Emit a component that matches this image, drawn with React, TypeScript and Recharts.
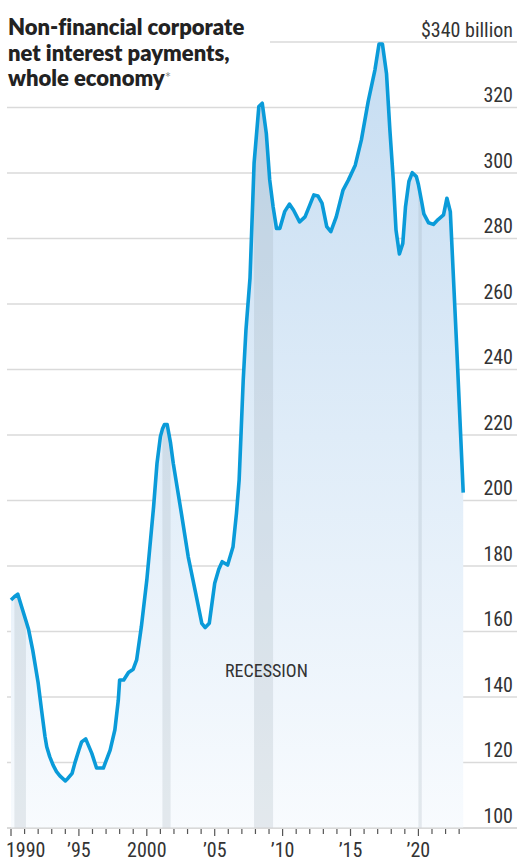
import React from "react";
import {
  ComposedChart,
  Area,
  Line,
  XAxis,
  YAxis,
  CartesianGrid,
} from "recharts";

// readings, $ billion
const years = [
  1990.0, 1990.25, 1990.5, 1991.1, 1991.3, 1991.6, 1992.0, 1992.25, 1992.5, 1992.63,
  1992.85, 1993.1, 1993.35, 1993.6, 1994.0, 1994.2, 1994.5, 1994.7, 1995.0, 1995.2,
  1995.5, 1995.95, 1996.3, 1996.8, 1997.3, 1997.65, 1997.9, 1998.0, 1998.3, 1998.65,
  1999.0, 1999.25, 1999.6, 2000.0, 2000.5, 2000.75, 2001.0, 2001.15, 2001.3, 2001.5,
  2001.75, 2001.95, 2002.55, 2003.05, 2003.55, 2004.05, 2004.3, 2004.6, 2005.0, 2005.3,
  2005.55, 2005.95, 2006.35, 2006.6, 2006.8, 2006.95, 2007.1, 2007.3, 2007.6, 2007.9,
  2008.25, 2008.5, 2008.8, 2009.05, 2009.3, 2009.55, 2009.8, 2010.15, 2010.5, 2010.8,
  2011.25, 2011.65, 2012.0, 2012.3, 2012.6, 2012.9, 2013.25, 2013.55, 2013.95, 2014.45,
  2014.85, 2015.35, 2015.8, 2016.3, 2016.8, 2017.1, 2017.35, 2017.65, 2017.9, 2018.15,
  2018.35, 2018.6, 2018.85, 2019.05, 2019.3, 2019.55, 2019.85, 2020.0, 2020.25, 2020.4,
  2020.75, 2021.1, 2021.45, 2021.85, 2022.1, 2022.35, 2022.82, 2023.3,
];
const payments = [
  169.6, 170.6, 171.4, 163.3, 160.5, 154.3, 144.3, 136, 128, 124.8,
  121.8, 119.2, 117.2, 115.9, 114.4, 115.2, 116.7, 119.8, 123.8, 126.3,
  127.2, 122.8, 118.3, 118.3, 123.8, 130, 139, 145.2, 145.2, 147.5,
  148.5, 151.3, 161.5, 175.7, 198.1, 211.3, 219.5, 221.8, 223.2, 223.2,
  217.5, 211.3, 196, 182.8, 172.7, 162.5, 161.2, 162.5, 174.7, 179,
  181.3, 180.3, 185.9, 196, 206.3, 221.5, 236.8, 252, 268, 303,
  320.3, 321.3, 312.1, 297.9, 289.7, 283.1, 283.1, 288.2, 290.5, 288.7,
  285.1, 286.6, 290.2, 293.3, 293, 290.8, 283.6, 282.1, 286.6, 294.8,
  297.9, 302.4, 310.1, 321.8, 331.5, 339.4, 339.4, 330.4, 313.1, 297.9,
  282.6, 275.3, 278.5, 289.7, 297.4, 300.1, 298.9, 296.5, 291, 287.5,
  284.8, 284.3, 285.8, 287.2, 292.3, 288.2, 246.9, 202.4,
];
const recessions = [
  [1990.25, 1991.1],
  [2001.15, 2001.75],
  [2007.9, 2009.3],
  [2020.0, 2020.25],
];
const yTicks = [100, 120, 140, 160, 180, 200, 220, 240, 260, 280, 300, 320, 340];
const xTicks = Array.from({ length: 34 }, (_, i) => 1990 + i);

const data = years.map((year, i) => {
  const row: Record<string, number | null> = { year, value: payments[i] };
  recessions.forEach(([s, e], k) => {
    row[`r${k}`] = year >= s && year <= e ? payments[i] : null;
  });
  return row;
});

const narrow = '"Liberation Sans Narrow", "Roboto Condensed", "DejaVu Sans Condensed", sans-serif';

const XTick = (props: any) => {
  const { x, y, payload } = props;
  const v = payload.value as number;
  const major = v % 5 === 0;
  let label = "";
  if (major) label = v === 1990 || v === 2000 ? String(v) : "\u2019" + String(v).slice(2);
  return (
    <g>
      <line x1={x} x2={x} y1={y + 1} y2={y + (major ? 8 : 6)} stroke="#555" strokeWidth={1.2} />
      {major && (
        <text
          x={v === 1990 ? x - 5 : x}
          y={y + 29}
          textAnchor={v === 1990 ? "start" : "middle"}
          fontFamily={narrow}
          fontSize={20}
          fill="#333"
        >
          {label}
        </text>
      )}
    </g>
  );
};

const YTick = (props: any) => {
  const { y, payload } = props;
  const v = payload.value as number;
  return (
    <text x={513} y={y - 5.5} textAnchor="end" fontFamily={narrow} fontSize={20} fill="#333">
      {v === 340 ? "$340 billion" : v}
    </text>
  );
};

export default function App() {
  return (
    <div style={{ position: "absolute", left: 0, top: 0, width: 524, height: 866, background: "#fff" }}>
      <ComposedChart
        width={524}
        height={866}
        data={data}
        margin={{ top: 42, right: 6, bottom: 0, left: 7 }}
      >
        <defs>
          <linearGradient id="areaFill" x1="0" y1="0" x2="0" y2="1">
            <stop offset="0%" stopColor="#c6ddf2" />
            <stop offset="100%" stopColor="#f8fbfe" />
          </linearGradient>
        </defs>
        <CartesianGrid vertical={false} stroke="#dadada" strokeWidth={1.3} />
        <XAxis
          dataKey="year"
          type="number"
          domain={[1989.705, 2027.26]}
          ticks={xTicks}
          interval={0}
          allowDataOverflow
          height={38}
          tickLine={false}
          tickSize={0}
          tickMargin={0}
          axisLine={{ stroke: "#d0d0d0" }}
          tick={<XTick />}
        />
        <YAxis
          orientation="right"
          width={1}
          domain={[100, 340]}
          ticks={yTicks}
          interval={0}
          allowDataOverflow
          tickLine={false}
          axisLine={false}
          tickSize={0}
          tickMargin={0}
          tick={<YTick />}
        />
        <Area
          type="linear"
          dataKey="value"
          stroke="none"
          fill="url(#areaFill)"
          fillOpacity={1}
          isAnimationActive={false}
        />
        {recessions.map((_, k) => (
          <Area
            key={k}
            type="linear"
            dataKey={`r${k}`}
            stroke="none"
            fill="#8795a3"
            fillOpacity={0.18}
            connectNulls={false}
            isAnimationActive={false}
          />
        ))}
        <Line
          type="linear"
          dataKey="value"
          stroke="#0a9bd9"
          strokeWidth={3.6}
          strokeLinejoin="round"
          dot={false}
          isAnimationActive={false}
        />
      </ComposedChart>
      <div
        style={{
          position: "absolute",
          left: 0,
          top: 14,
          width: 262,
          paddingLeft: 8,
          background: "#fff",
          fontFamily: "Lato, 'Noto Sans', sans-serif",
          fontWeight: 800,
          fontVariantLigatures: "none",
          fontSize: 22,
          lineHeight: "25.5px",
          color: "#222",
        }}
      >
        Non-financial corporate
        <br />
        net interest payments,
        <br />
        whole economy
        <span style={{ fontWeight: 400, fontSize: 15, color: "#888", verticalAlign: "top" }}>*</span>
      </div>
      <div
        style={{
          position: "absolute",
          left: 225,
          top: 660,
          fontFamily: narrow,
          fontSize: 18,
          color: "#333",
        }}
      >
        RECESSION
      </div>
    </div>
  );
}
